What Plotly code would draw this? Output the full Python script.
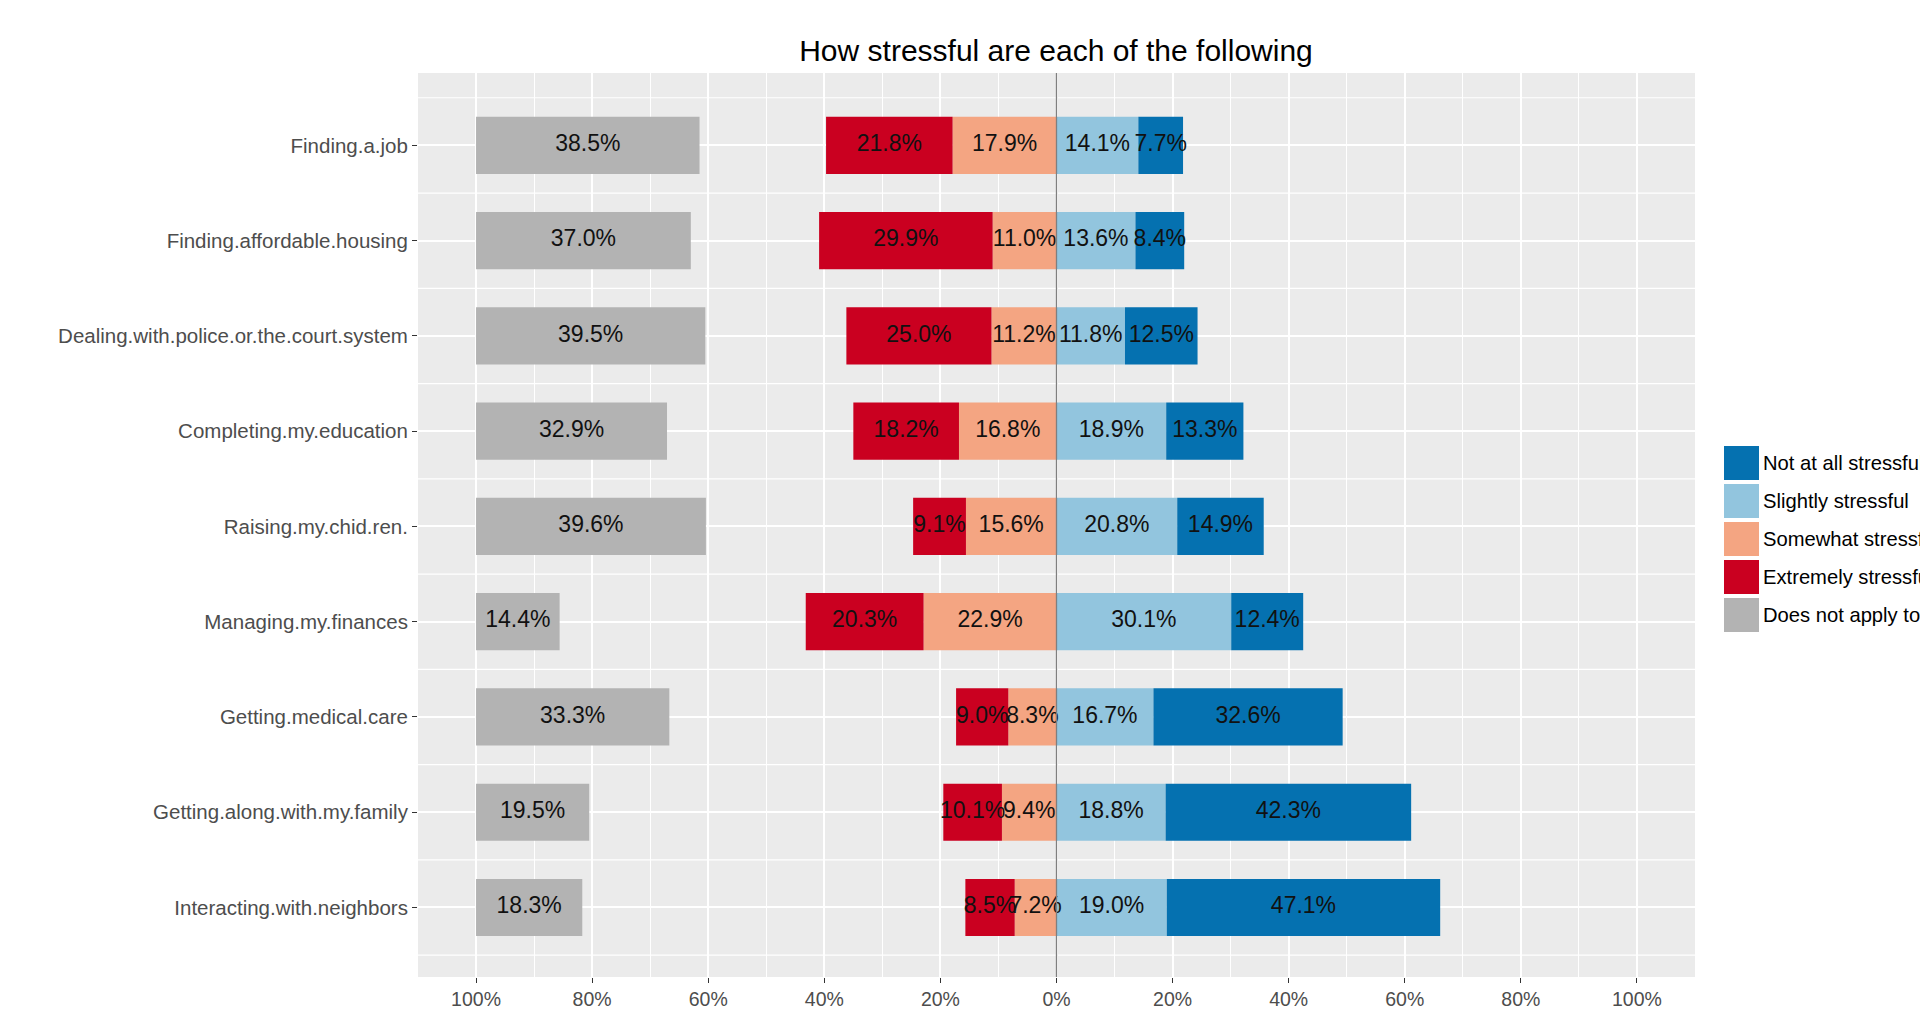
import plotly.graph_objects as go

categories = [
    "Finding.a.job",
    "Finding.affordable.housing",
    "Dealing.with.police.or.the.court.system",
    "Completing.my.education",
    "Raising.my.chid.ren.",
    "Managing.my.finances",
    "Getting.medical.care",
    "Getting.along.with.my.family",
    "Interacting.with.neighbors",
]
does_not_apply = [38.5, 37.0, 39.5, 32.9, 39.6, 14.4, 33.3, 19.5, 18.3]
extremely = [21.8, 29.9, 25.0, 18.2, 9.1, 20.3, 9.0, 10.1, 8.5]
somewhat = [17.9, 11.0, 11.2, 16.8, 15.6, 22.9, 8.3, 9.4, 7.2]
slightly = [14.1, 13.6, 11.8, 18.9, 20.8, 30.1, 16.7, 18.8, 19.0]
not_at_all = [7.7, 8.4, 12.5, 13.3, 14.9, 12.4, 32.6, 42.3, 47.1]

tick_vals = [-100, -80, -60, -40, -20, 0, 20, 40, 60, 80, 100]
tick_text = ["100%", "80%", "60%", "40%", "20%", "0%", "20%", "40%", "60%", "80%", "100%"]

legend_names = ["Not at all stressful", "Slightly stressful", "Somewhat stressful",
                "Extremely stressful", "Does not apply to me"]
colors = {
    "Not at all stressful": "#0571b0",
    "Slightly stressful": "#92c5de",
    "Somewhat stressful": "#f4a582",
    "Extremely stressful": "#ca0020",
    "Does not apply to me": "#b3b3b3",
}

FONT = "Liberation Sans, Arial, sans-serif"
W, H = 1928, 1017
ML, MR, MT, MB = 410, 241, 65, 48

n = len(categories)
segs = [
    ("Somewhat stressful", [0.0] * n, [-v for v in somewhat]),
    ("Extremely stressful", [-v for v in somewhat], [-v for v in extremely]),
    ("Slightly stressful", [0.0] * n, list(slightly)),
    ("Not at all stressful", list(slightly), list(not_at_all)),
    ("Does not apply to me", [-100.0] * n, list(does_not_apply)),
]
raw = {
    "Somewhat stressful": somewhat,
    "Extremely stressful": extremely,
    "Slightly stressful": slightly,
    "Not at all stressful": not_at_all,
    "Does not apply to me": does_not_apply,
}

fig = go.Figure()
for name, base, length in segs:
    fig.add_trace(go.Bar(
        y=categories, x=length, base=base, orientation="h", name=name,
        marker=dict(color=colors[name], line=dict(width=0)),
        width=0.6, showlegend=False,
    ))
for name, base, length in segs:
    centers = [b + l / 2 for b, l in zip(base, length)]
    fig.add_trace(go.Scatter(
        y=categories, x=centers, mode="text",
        text=[f"{v:.1f}%" for v in raw[name]],
        textfont=dict(family=FONT, size=23, color="#111111"),
        textposition="middle center", showlegend=False, cliponaxis=False,
        hoverinfo="skip",
    ))

shapes = []
for i in range(n + 1):
    shapes.append(dict(type="line", xref="paper", x0=0, x1=1, yref="y",
                       y0=i - 0.5, y1=i - 0.5, line=dict(color="white", width=1.2),
                       layer="below"))
shapes.append(dict(type="line", xref="x", x0=0, x1=0, yref="paper", y0=0, y1=1,
                   line=dict(color="#7f7f7f", width=1.3), layer="above"))

annotations = []
key_x0 = 1716
key_w = 35
key_h = 34
first_center = 455
step = 38
for k, name in enumerate(legend_names):
    cy = first_center + k * step
    shapes.append(dict(type="rect", xref="paper", yref="paper",
                       x0=(key_x0 - ML) / (W - ML - MR),
                       x1=(key_x0 + key_w - ML) / (W - ML - MR),
                       y0=(H - MB - (cy + key_h / 2)) / (H - MT - MB),
                       y1=(H - MB - (cy - key_h / 2)) / (H - MT - MB),
                       fillcolor=colors[name], line=dict(width=0)))
    annotations.append(dict(xref="paper", yref="paper",
                            x=(1755 - ML) / (W - ML - MR),
                            y=(H - MB - cy) / (H - MT - MB),
                            xanchor="left", yanchor="middle", showarrow=False,
                            borderpad=0, borderwidth=0,
                            text=name, font=dict(family=FONT, size=20.2, color="#000000")))

fig.update_layout(
    width=W, height=H,
    margin=dict(l=ML, r=MR, t=MT, b=MB, pad=0),
    paper_bgcolor="white", plot_bgcolor="#ebebeb",
    barmode="overlay", bargap=0.4,
    showlegend=False,
    title=dict(text="How stressful are each of the following",
               x=1048 / W, xanchor="center", y=1 - 42 / H, yanchor="middle",
               font=dict(family=FONT, size=30, color="#000000")),
    shapes=shapes, annotations=annotations,
    font=dict(family=FONT),
)
fig.update_xaxes(
    range=[-110, 110], tickvals=tick_vals, ticktext=tick_text,
    showgrid=True, gridcolor="white", gridwidth=2,
    minor=dict(dtick=10, tick0=0, showgrid=True, gridcolor="white", gridwidth=1.2),
    zeroline=False, ticks="outside", ticklen=5, tickcolor="#333333", tickwidth=1.3,
    tickfont=dict(family=FONT, size=19.5, color="#4d4d4d"), showline=False,
)
fig.update_yaxes(
    type="category", categoryorder="array", categoryarray=categories,
    range=[8.73, -0.76],
    showgrid=True, gridcolor="white", gridwidth=2, zeroline=False,
    ticks="outside", ticklen=5, tickcolor="#333333", tickwidth=1.3,
    tickfont=dict(family=FONT, size=20.5, color="#4d4d4d"), showline=False,
)

fig.write_html("out.html")
